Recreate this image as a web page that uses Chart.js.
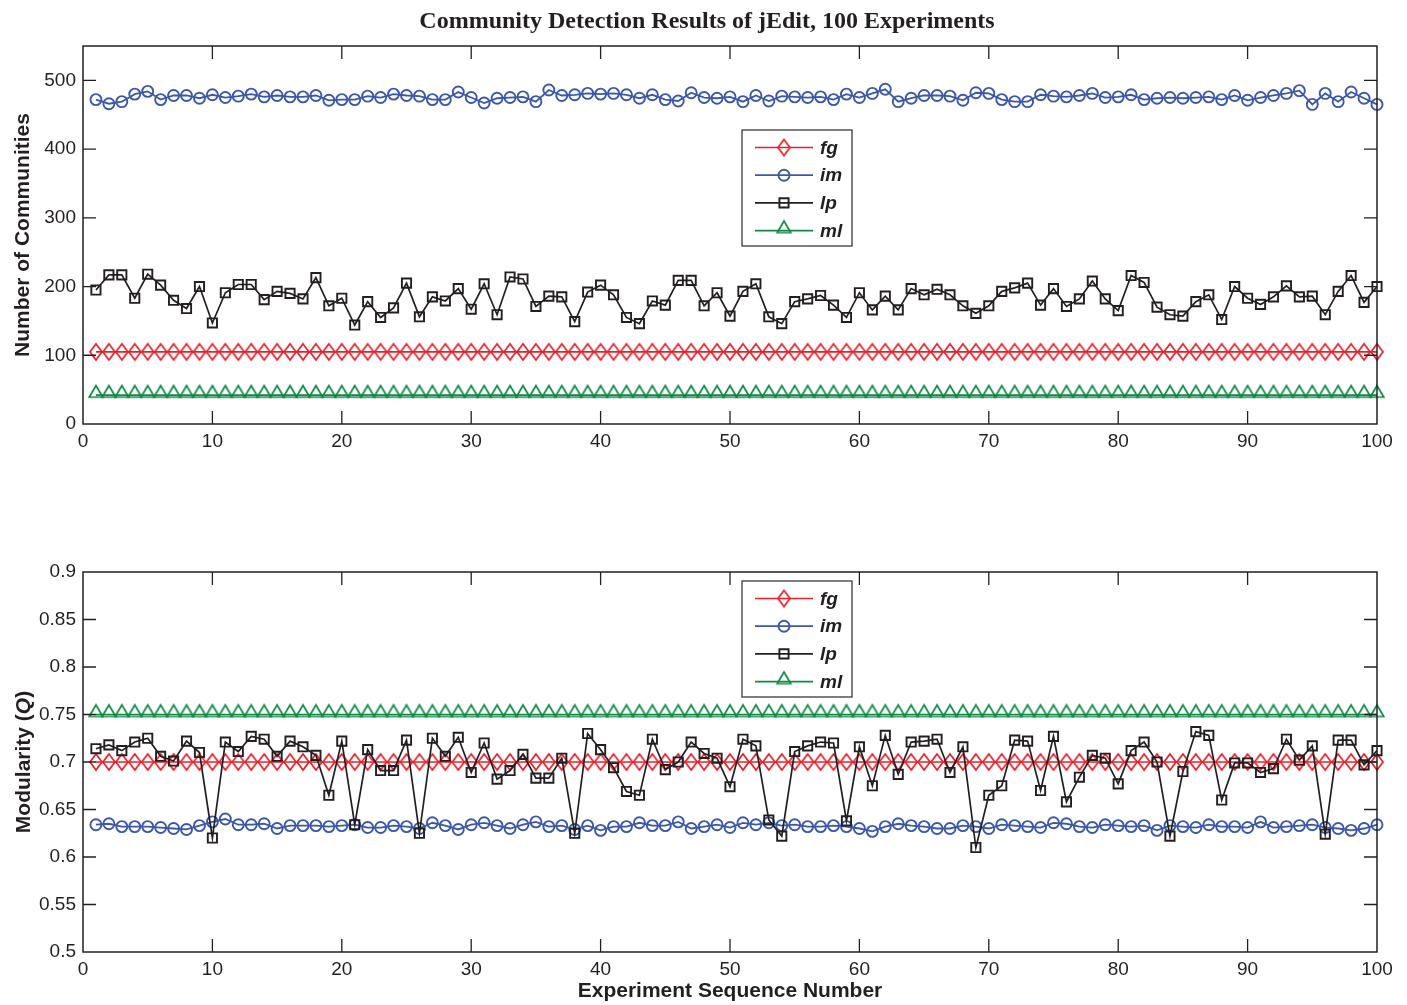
<!DOCTYPE html>
<html>
<head>
<meta charset="utf-8">
<script src="https://cdn.jsdelivr.net/npm/chart.js@4/dist/chart.umd.min.js"></script>
<style>
html,body{margin:0;padding:0;background:#fff;}
#wrap{position:relative;width:1407px;height:1005px;overflow:hidden;background:#fff;}
#title{position:absolute;left:0;top:6px;width:1414px;text-align:center;font:bold 24px "Liberation Serif","Times New Roman",serif;color:#231f20;z-index:2;line-height:28px;}
.c{position:absolute;left:0;width:1407px;}
</style>
</head>
<body>
<div id="wrap">
<div class="c" style="top:0;height:470px"><canvas id="topChart" width="1407" height="470"></canvas></div>
<div class="c" style="top:470px;height:535px"><canvas id="botChart" width="1407" height="535"></canvas></div>
<div id="title">Community Detection Results of jEdit, 100 Experiments</div>
</div>
<script>
// ---------- DATA ----------
const experiments = [1,2,3,4,5,6,7,8,9,10,11,12,13,14,15,16,17,18,19,20,21,22,23,24,25,26,27,28,29,30,31,32,33,34,35,36,37,38,39,40,41,42,43,44,45,46,47,48,49,50,51,52,53,54,55,56,57,58,59,60,61,62,63,64,65,66,67,68,69,70,71,72,73,74,75,76,77,78,79,80,81,82,83,84,85,86,87,88,89,90,91,92,93,94,95,96,97,98,99,100];
const seriesNames = ['fg','im','lp','ml'];

// Number of communities
const fgCount = [105,105,105,105,105,105,105,105,105,105,105,105,105,105,105,105,105,105,105,105,105,105,105,105,105,105,105,105,105,105,105,105,105,105,105,105,105,105,105,105,105,105,105,105,105,105,105,105,105,105,105,105,105,105,105,105,105,105,105,105,105,105,105,105,105,105,105,105,105,105,105,105,105,105,105,105,105,105,105,105,105,105,105,105,105,105,105,105,105,105,105,105,105,105,105,105,105,105,105,105];
const imCount = [472,466,469,480,484,472,478,478,474,479,475,477,480,476,478,476,476,478,471,472,472,477,475,480,478,477,472,472,483,475,467,474,475,476,469,486,478,479,481,480,481,479,474,479,472,470,482,475,474,476,469,478,470,477,476,475,476,472,480,475,481,487,469,474,478,478,477,471,482,481,472,469,469,479,477,476,478,481,475,476,479,472,474,475,474,475,476,472,478,471,475,478,481,485,465,481,469,483,474,465];
const lpCount = [195,217,217,183,218,202,180,168,200,147,191,203,203,181,193,190,182,213,172,183,144,178,155,169,205,156,185,179,197,167,204,159,214,211,171,186,185,149,192,202,188,155,146,179,173,209,209,172,191,157,193,204,156,146,178,182,187,173,155,191,166,186,166,197,188,196,188,172,161,172,193,198,205,173,197,171,182,208,182,165,216,206,170,159,157,178,188,152,200,183,174,185,201,185,186,159,193,216,177,200];
const mlCount = [42,42,42,42,42,42,42,42,42,42,42,42,42,42,42,42,42,42,42,42,42,42,42,42,42,42,42,42,42,42,42,42,42,42,42,42,42,42,42,42,42,42,42,42,42,42,42,42,42,42,42,42,42,42,42,42,42,42,42,42,42,42,42,42,42,42,42,42,42,42,42,42,42,42,42,42,42,42,42,42,42,42,42,42,42,42,42,42,42,42,42,42,42,42,42,42,42,42,42,42];

// Modularity Q
const fgQ = [0.7,0.7,0.7,0.7,0.7,0.7,0.7,0.7,0.7,0.7,0.7,0.7,0.7,0.7,0.7,0.7,0.7,0.7,0.7,0.7,0.7,0.7,0.7,0.7,0.7,0.7,0.7,0.7,0.7,0.7,0.7,0.7,0.7,0.7,0.7,0.7,0.7,0.7,0.7,0.7,0.7,0.7,0.7,0.7,0.7,0.7,0.7,0.7,0.7,0.7,0.7,0.7,0.7,0.7,0.7,0.7,0.7,0.7,0.7,0.7,0.7,0.7,0.7,0.7,0.7,0.7,0.7,0.7,0.7,0.7,0.7,0.7,0.7,0.7,0.7,0.7,0.7,0.7,0.7,0.7,0.7,0.7,0.7,0.7,0.7,0.7,0.7,0.7,0.7,0.7,0.7,0.7,0.7,0.7,0.7,0.7,0.7,0.7,0.7,0.7];
const imQ = [0.634,0.635,0.632,0.632,0.632,0.631,0.630,0.629,0.633,0.637,0.640,0.634,0.634,0.635,0.630,0.633,0.633,0.633,0.632,0.633,0.634,0.631,0.631,0.633,0.632,0.630,0.636,0.633,0.629,0.634,0.636,0.633,0.630,0.634,0.637,0.632,0.633,0.629,0.633,0.628,0.632,0.632,0.636,0.633,0.633,0.637,0.630,0.632,0.634,0.631,0.636,0.634,0.636,0.633,0.634,0.632,0.632,0.633,0.632,0.630,0.627,0.632,0.635,0.633,0.632,0.630,0.630,0.633,0.632,0.630,0.634,0.633,0.632,0.631,0.636,0.635,0.632,0.631,0.634,0.633,0.632,0.633,0.628,0.633,0.632,0.631,0.634,0.632,0.632,0.631,0.637,0.631,0.632,0.633,0.634,0.631,0.630,0.628,0.630,0.634];
const lpQ = [0.714,0.718,0.712,0.721,0.725,0.706,0.701,0.722,0.710,0.620,0.721,0.711,0.727,0.724,0.706,0.722,0.716,0.707,0.665,0.722,0.634,0.713,0.691,0.691,0.723,0.625,0.725,0.706,0.726,0.689,0.720,0.682,0.691,0.708,0.683,0.683,0.704,0.625,0.730,0.713,0.694,0.669,0.665,0.724,0.692,0.700,0.721,0.709,0.704,0.674,0.724,0.717,0.639,0.622,0.711,0.717,0.721,0.720,0.638,0.716,0.675,0.728,0.687,0.721,0.722,0.724,0.689,0.716,0.610,0.665,0.675,0.723,0.722,0.670,0.727,0.658,0.684,0.707,0.704,0.677,0.712,0.721,0.700,0.622,0.690,0.732,0.728,0.660,0.699,0.699,0.689,0.693,0.724,0.702,0.717,0.624,0.723,0.723,0.697,0.712];
const mlQ = [0.75,0.75,0.75,0.75,0.75,0.75,0.75,0.75,0.75,0.75,0.75,0.75,0.75,0.75,0.75,0.75,0.75,0.75,0.75,0.75,0.75,0.75,0.75,0.75,0.75,0.75,0.75,0.75,0.75,0.75,0.75,0.75,0.75,0.75,0.75,0.75,0.75,0.75,0.75,0.75,0.75,0.75,0.75,0.75,0.75,0.75,0.75,0.75,0.75,0.75,0.75,0.75,0.75,0.75,0.75,0.75,0.75,0.75,0.75,0.75,0.75,0.75,0.75,0.75,0.75,0.75,0.75,0.75,0.75,0.75,0.75,0.75,0.75,0.75,0.75,0.75,0.75,0.75,0.75,0.75,0.75,0.75,0.75,0.75,0.75,0.75,0.75,0.75,0.75,0.75,0.75,0.75,0.75,0.75,0.75,0.75,0.75,0.75,0.75,0.75];

const xTicks = [0,10,20,30,40,50,60,70,80,90,100];
const countTicks = [0,100,200,300,400,500];
const qTicks = [0.5,0.55,0.6,0.65,0.7,0.75,0.8,0.85,0.9];

// ---------- STYLE ----------
const INK = '#231f20';
const COLORS = {fg:'#e8202a', im:'#3b58a8', lp:'#231f20', ml:'#0f8a44'};
const FONT = '"Liberation Sans", Arial, Helvetica, sans-serif';
Chart.defaults.font.family = FONT;
Chart.defaults.color = INK;

function makeDiamond(color){
  const c=document.createElement('canvas'); c.width=18; c.height=20;
  const g=c.getContext('2d'); g.strokeStyle=color; g.lineWidth=1.7; g.lineJoin='miter';
  g.beginPath(); g.moveTo(9,2); g.lineTo(15,10); g.lineTo(9,18); g.lineTo(3,10); g.closePath(); g.stroke();
  return c;
}
function makeTriangle(color){
  const c=document.createElement('canvas'); c.width=20; c.height=24;
  const g=c.getContext('2d'); g.strokeStyle=color; g.lineWidth=1.7;
  g.beginPath(); g.moveTo(10,2.5); g.lineTo(16.8,14); g.lineTo(3.2,14); g.closePath(); g.stroke();
  return c;
}
const diamondImg = makeDiamond(COLORS.fg);
const triImg = makeTriangle(COLORS.ml);

function pts(vals){ return vals.map((v,i)=>({x:experiments[i], y:v})); }

function makeDatasets(fg, im, lp, ml){
  return [
    {label:seriesNames[0], data:pts(fg), borderColor:COLORS.fg, borderWidth:1.6, pointStyle:diamondImg, pointRadius:8, pointBorderWidth:1.7, pointBorderColor:COLORS.fg, pointBackgroundColor:'rgba(0,0,0,0)', order:4, clip:false},
    {label:seriesNames[1], data:pts(im), borderColor:COLORS.im, borderWidth:1.8, pointStyle:'circle', pointRadius:5.5, pointBorderWidth:1.9, pointBorderColor:COLORS.im, pointBackgroundColor:'rgba(0,0,0,0)', order:3, clip:false},
    {label:seriesNames[2], data:pts(lp), borderColor:COLORS.lp, borderWidth:1.7, pointStyle:'rect', pointRadius:6.5, pointBorderWidth:1.9, pointBorderColor:COLORS.lp, pointBackgroundColor:'rgba(0,0,0,0)', order:2, clip:false},
    {label:seriesNames[3], data:pts(ml), borderColor:COLORS.ml, borderWidth:1.6, pointStyle:triImg, pointRadius:8, pointBorderWidth:1.7, pointBorderColor:COLORS.ml, pointBackgroundColor:'rgba(0,0,0,0)', order:1, clip:false}
  ];
}

// frame with inward ticks (MATLAB box)
const boxPlugin = {
  id:'mbox',
  afterDatasetsDraw(chart){
    const {ctx, chartArea:ca, scales} = chart;
    const TL = 13;
    ctx.save();
    ctx.strokeStyle = INK; ctx.lineWidth = 1.3;
    ctx.beginPath();
    scales.x.ticks.forEach(t=>{
      const px = scales.x.getPixelForValue(t.value);
      if (t.value===scales.x.min || t.value===scales.x.max) return;
      ctx.moveTo(px, ca.bottom); ctx.lineTo(px, ca.bottom-TL);
      ctx.moveTo(px, ca.top); ctx.lineTo(px, ca.top+TL);
    });
    scales.y.ticks.forEach(t=>{
      const py = scales.y.getPixelForValue(t.value);
      if (Math.abs(t.value-scales.y.min)<1e-9 || Math.abs(t.value-scales.y.max)<1e-9) return;
      ctx.moveTo(ca.left, py); ctx.lineTo(ca.left+TL, py);
      ctx.moveTo(ca.right, py); ctx.lineTo(ca.right-TL, py);
    });
    ctx.stroke();
    ctx.lineWidth = 1.5;
    ctx.strokeRect(ca.left, ca.top, ca.right-ca.left, ca.bottom-ca.top);
    ctx.restore();
  }
};

// MATLAB-style legend box
const legendPlugin = {
  id:'mlegend',
  afterDraw(chart, args, opts){
    const {ctx, chartArea:ca} = chart;
    const x0 = ca.left + opts.dx, y0 = ca.top + opts.dy, w = 110, h = 116;
    ctx.save();
    ctx.fillStyle = '#fff'; ctx.fillRect(x0, y0, w, h);
    ctx.strokeStyle = '#3a3a3a'; ctx.lineWidth = 1.3; ctx.strokeRect(x0, y0, w, h);
    chart.data.datasets.forEach((ds,i)=>{
      const y = y0 + 17.5 + i*27.7;
      ctx.strokeStyle = ds.borderColor; ctx.lineWidth = ds.borderWidth;
      ctx.beginPath(); ctx.moveTo(x0+13, y); ctx.lineTo(x0+71, y); ctx.stroke();
      ctx.strokeStyle = ds.pointBorderColor; ctx.fillStyle = 'rgba(0,0,0,0)'; ctx.lineWidth = ds.pointBorderWidth;
      Chart.helpers.drawPoint(ctx, {pointStyle: ds.pointStyle, radius: ds.pointRadius, borderWidth: ds.pointBorderWidth, rotation: 0}, x0+42, y);
      ctx.fillStyle = INK; ctx.font = 'italic bold 19px ' + FONT; ctx.textBaseline = 'middle'; ctx.textAlign='left';
      ctx.fillText(ds.label, x0+78, y+1);
    });
    ctx.restore();
  }
};

// y title with italic Q
const qTitlePlugin = {
  id:'qtitle',
  afterDraw(chart){
    const {ctx, chartArea:ca} = chart;
    const cy = (ca.top+ca.bottom)/2;
    const parts = [['Modularity (', 'bold 21px '+FONT], ['Q', 'italic bold 21px '+FONT], [')', 'bold 21px '+FONT]];
    ctx.save();
    ctx.translate(24, cy); ctx.rotate(-Math.PI/2);
    let total = 0;
    parts.forEach(p=>{ ctx.font = p[1]; total += ctx.measureText(p[0]).width; });
    let x = -total/2;
    ctx.fillStyle = INK; ctx.textBaseline = 'middle'; ctx.textAlign = 'left';
    parts.forEach(p=>{ ctx.font = p[1]; ctx.fillText(p[0], x, 0); x += ctx.measureText(p[0]).width; });
    ctx.restore();
  }
};

function xScale(height, withTitle){
  return {
    type:'linear', min:0, max:100,
    afterBuildTicks(s){ s.ticks = xTicks.map(v=>({value:v})); },
    ticks:{font:{size:19}, color:INK, padding:6, maxRotation:0, autoSkip:false},
    grid:{display:false, drawTicks:false},
    border:{display:false},
    title: withTitle ? {display:true, text:'Experiment Sequence Number', font:{size:21, weight:'bold'}, color:INK, padding:{top:0, bottom:1}} : {display:false},
    afterFit(s){ s.height = height; }
  };
}

// ---------- TOP CHART ----------
new Chart(document.getElementById('topChart'), {
  type:'line',
  data:{datasets: makeDatasets(fgCount, imCount, lpCount, mlCount)},
  options:{
    responsive:false, animation:false, devicePixelRatio:1,
    layout:{padding:{top:46, right:30, left:0, bottom:0}},
    plugins:{legend:{display:false}, tooltip:{enabled:false}, mlegend:{dx:659, dy:84}},
    scales:{
      x: xScale(46, false),
      y:{
        type:'linear', min:0, max:550,
        afterBuildTicks(s){ s.ticks = countTicks.map(v=>({value:v})); },
        ticks:{font:{size:19}, color:INK, padding:7},
        grid:{display:false, drawTicks:false},
        border:{display:false},
        title:{display:true, text:'Number of Communities', font:{size:21, weight:'bold'}, color:INK, padding:{top:11, bottom:0}},
        afterFit(s){ s.width = 83; }
      }
    }
  },
  plugins:[boxPlugin, legendPlugin]
});

// ---------- BOTTOM CHART ----------
new Chart(document.getElementById('botChart'), {
  type:'line',
  data:{datasets: makeDatasets(fgQ, imQ, lpQ, mlQ)},
  options:{
    responsive:false, animation:false, devicePixelRatio:1,
    layout:{padding:{top:102, right:30, left:0, bottom:0}},
    plugins:{legend:{display:false}, tooltip:{enabled:false}, mlegend:{dx:659, dy:9}},
    scales:{
      x: xScale(53, true),
      y:{
        type:'linear', min:0.5, max:0.9,
        afterBuildTicks(s){ s.ticks = qTicks.map(v=>({value:v})); },
        ticks:{font:{size:19}, color:INK, padding:7, callback:(v)=>String(parseFloat(Number(v).toFixed(2)))},
        grid:{display:false, drawTicks:false},
        border:{display:false},
        title:{display:false},
        afterFit(s){ s.width = 83; }
      }
    }
  },
  plugins:[boxPlugin, legendPlugin, qTitlePlugin]
});
</script>
</body>
</html>
